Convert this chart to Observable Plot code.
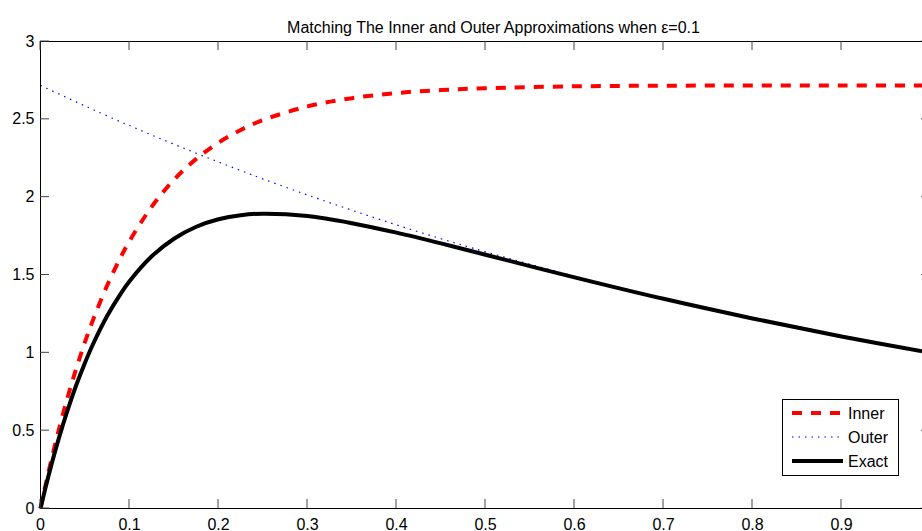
<!DOCTYPE html>
<html><head><meta charset="utf-8">
<script src="https://cdn.jsdelivr.net/npm/d3@7"></script>
<script src="https://cdn.jsdelivr.net/npm/@observablehq/plot@0.6"></script>
<style>
html,body{margin:0;padding:0;background:#fff;overflow:hidden;}
#chart{width:922px;height:531px;overflow:hidden;}
#chart svg{max-width:none !important;}
</style></head><body><div id="chart"></div>
<script>
const titleText = "Matching The Inner and Outer Approximations when \u03b5=0.1";
const seriesNames = ["Inner", "Outer", "Exact"];
const xValues = [0, 0.005, 0.01, 0.02, 0.03, 0.04, 0.05, 0.06, 0.075, 0.09, 0.1, 0.125, 0.15, 0.175, 0.2, 0.225, 0.25, 0.3, 0.35, 0.4, 0.45, 0.5, 0.6, 0.7, 0.8, 0.9, 1.0];
const innerValues = [0, 0.133, 0.259, 0.493, 0.705, 0.896, 1.070, 1.226, 1.434, 1.613, 1.718, 1.939, 2.112, 2.246, 2.350, 2.432, 2.495, 2.583, 2.636, 2.669, 2.688, 2.700, 2.712, 2.716, 2.717, 2.718, 2.718];
const outerValues = [2.718, 2.705, 2.691, 2.665, 2.638, 2.612, 2.586, 2.560, 2.522, 2.484, 2.460, 2.399, 2.340, 2.282, 2.226, 2.171, 2.117, 2.014, 1.916, 1.822, 1.733, 1.649, 1.492, 1.350, 1.221, 1.105, 1.000];
const exactValues = [0, 0.119, 0.232, 0.439, 0.624, 0.790, 0.937, 1.068, 1.238, 1.379, 1.460, 1.620, 1.733, 1.810, 1.858, 1.884, 1.894, 1.879, 1.833, 1.772, 1.703, 1.630, 1.485, 1.347, 1.221, 1.105, 1.000];
const xTicks = [0, 0.1, 0.2, 0.3, 0.4, 0.5, 0.6, 0.7, 0.8, 0.9, 1];
const xTickLabels = [0, 0.1, 0.2, 0.3, 0.4, 0.5, 0.6, 0.7, 0.8, 0.9];
const yTicks = [0, 0.5, 1, 1.5, 2, 2.5, 3];

const styles = [
  {name: seriesNames[0], stroke: "#ff0000", strokeWidth: 4, dash: "10,9"},
  {name: seriesNames[1], stroke: "#0000ff", strokeWidth: 1.2, dash: "1.5,5"},
  {name: seriesNames[2], stroke: "#000000", strokeWidth: 4, dash: null}
];
const rows = (vals) => xValues.map((x, i) => ({x, y: vals[i]}));
const series = [innerValues, outerValues, exactValues];

const font = "'Liberation Sans', Arial, Helvetica, sans-serif";
const plot = Plot.plot({
  width: 940, height: 531,
  marginLeft: 40, marginRight: 10, marginTop: 41, marginBottom: 23,
  style: {fontFamily: font, fontSize: "16px", background: "white", color: "black", maxWidth: "none"},
  x: {domain: [0, 1], label: null},
  y: {domain: [0, 3], label: null},
  marks: [
    Plot.axisX({ticks: xTickLabels, tickSize: 0, tickPadding: 10, tickFormat: d => String(d), label: null}),
    Plot.axisY({ticks: yTicks, tickSize: 0, tickPadding: 6, tickFormat: d => String(d), label: null}),
    ...series.map((vals, k) => Plot.line(rows(vals), {
      x: "x", y: "y", stroke: styles[k].stroke, strokeWidth: styles[k].strokeWidth,
      strokeDasharray: styles[k].dash, curve: "catmull-rom", strokeLinecap: "butt"
    })),
    Plot.frame({stroke: "black", strokeWidth: 1}),
    Plot.text([titleText], {frameAnchor: "top", dy: -20, dx: 8, fontSize: 16})
  ]
});
document.getElementById("chart").appendChild(plot);

// inward ticks on all four sides using the plot's scales
const sx = plot.scale("x"), sy = plot.scale("y");
const svg = d3.select(plot);
const g = svg.append("g").attr("stroke", "#444").attr("stroke-width", 1);
const y0 = sy.apply(0), y1 = sy.apply(3), x0 = sx.apply(0), x1 = sx.apply(1);
const T = 9;
for (const t of xTicks) {
  const px = sx.apply(t);
  g.append("line").attr("x1", px).attr("x2", px).attr("y1", y0).attr("y2", y0 - T);
  g.append("line").attr("x1", px).attr("x2", px).attr("y1", y1).attr("y2", y1 + T);
}
for (const t of yTicks) {
  const py = sy.apply(t);
  g.append("line").attr("y1", py).attr("y2", py).attr("x1", x0).attr("x2", x0 + T);
  g.append("line").attr("y1", py).attr("y2", py).attr("x1", x1).attr("x2", x1 - T);
}

// legend
const lg = svg.append("g").attr("font-family", font).attr("font-size", 16).attr("text-anchor", "start");
lg.append("rect").attr("x", 782.5).attr("y", 399.5).attr("width", 116).attr("height", 76)
  .attr("fill", "white").attr("stroke", "black").attr("stroke-width", 1);
styles.forEach((s, i) => {
  const yy = 413 + i * 24;
  const ln = lg.append("line").attr("x1", 792).attr("x2", 843).attr("y1", yy).attr("y2", yy)
    .attr("stroke", s.stroke).attr("stroke-width", s.strokeWidth);
  if (s.dash) ln.attr("stroke-dasharray", s.dash);
  lg.append("text").attr("x", 848).attr("y", yy).attr("dy", "0.35em").attr("text-anchor", "start").text(s.name);
});
</script></body></html>
